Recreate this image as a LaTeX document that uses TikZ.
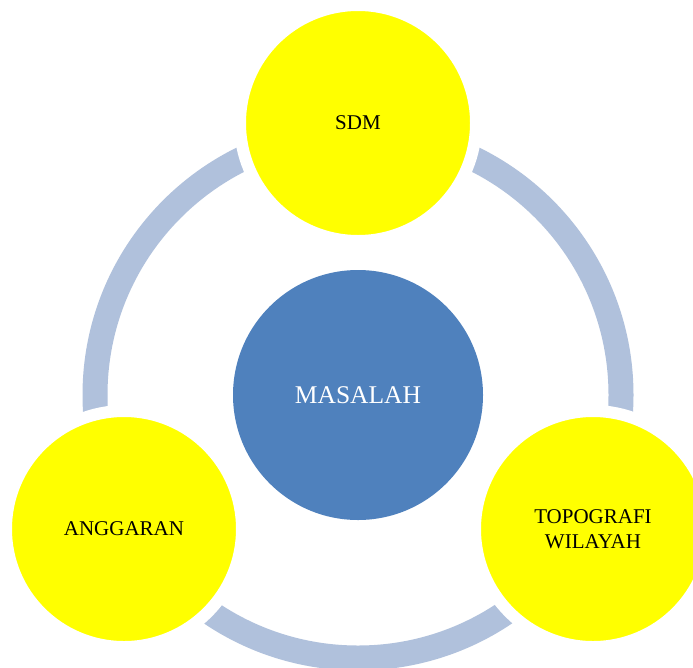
\documentclass[tikz,border=0pt]{standalone}
\usepackage{fontspec}
\setmainfont{Liberation Serif}
\definecolor{ringc}{HTML}{B0C1DC}
\definecolor{bluec}{HTML}{4F81BD}
\definecolor{yel}{HTML}{FFFF00}
\begin{document}
\begin{tikzpicture}[x=1pt,y=-1pt,
  outer/.style={circle,fill=yel,draw=white,line width=12pt,minimum size=236pt,inner sep=0pt,align=center,font=\fontsize{21}{25}\selectfont,text=black},
  core/.style={circle,fill=bluec,minimum size=250pt,inner sep=0pt,font=\fontsize{25.5}{30}\selectfont,text=white}]
\clip (0,0) rectangle (693,667);
\fill[white] (0,0) rectangle (693,667);
\coordinate (c) at (358,395);
\draw[ringc,line width=25pt] (c) circle[radius=263];
\node[core] (mas) at (358,395) {MASALAH};
\node[outer] (sdm) at (358,123) {SDM};
\node[outer] (ang) at (124,529) {ANGGARAN};
\node[outer] (topo) at (593,529) {TOPOGRAFI\\WILAYAH};
\end{tikzpicture}
\end{document}
